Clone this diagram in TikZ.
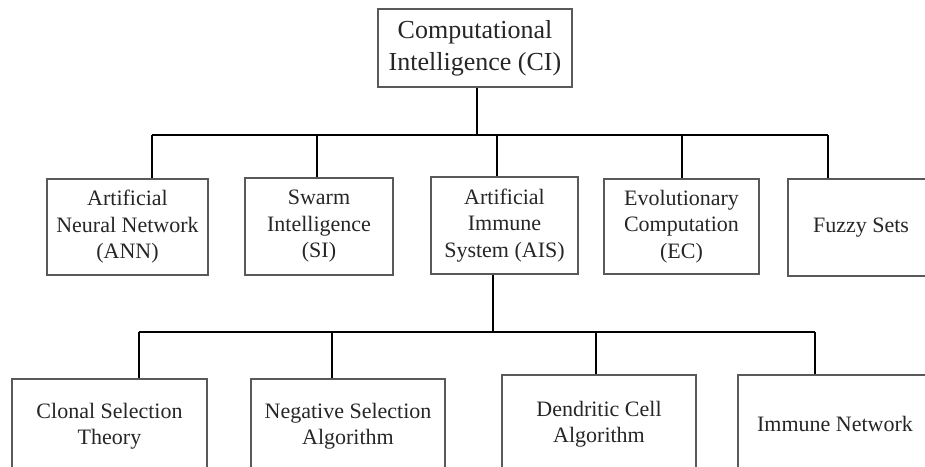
\documentclass[tikz,border=0pt]{standalone}
\usepackage{fontspec}
\setmainfont{Liberation Serif}
\begin{document}
\begin{tikzpicture}[x=1pt,y=-1pt,
  box/.style={draw=black!65,line width=1.3pt,fill=white,inner sep=0pt,align=center,
    text=black!85,font=\fontsize{22}{26.5}\selectfont},
  link/.style={draw=black,line width=2.4pt}]
\clip (0,0) rectangle (925,466);
\fill[white] (0,0) rectangle (925,466);
% top
\node[box,minimum width=194pt,minimum height=78pt,font=\fontsize{26}{32}\selectfont] (ci) at (475,48) {Computational\\Intelligence (CI)};
% second level
\node[box,minimum width=161pt,minimum height=96pt] (ann) at (127.5,227) {Artificial\\Neural Network\\(ANN)};
\node[box,minimum width=148pt,minimum height=97pt] (si) at (319,226.5) {Swarm\\Intelligence\\(SI)};
\node[box,minimum width=147pt,minimum height=97pt] (ais) at (504.5,225.5) {Artificial\\Immune\\System (AIS)};
\node[box,minimum width=155pt,minimum height=95pt] (ec) at (681.5,226.5) {Evolutionary\\Computation\\(EC)};
\node[box,minimum width=146pt,minimum height=97pt] (fs) at (861,227.5) {Fuzzy Sets};
% third level
\node[box,minimum width=195pt,minimum height=94pt] (cst) at (109.5,426) {Clonal Selection\\Theory};
\node[box,minimum width=194pt,minimum height=94pt] (nsa) at (348,426) {Negative Selection\\Algorithm};
\node[box,minimum width=194pt,minimum height=98pt] (dca) at (599,424) {Dendritic Cell\\Algorithm};
\node[box,minimum width=194pt,minimum height=98pt] (imn) at (835,424) {Immune Network};
% bus junctions
\coordinate (top) at (477,135);
\coordinate (b1) at (152,135);
\coordinate (b2) at (317,135);
\coordinate (b3) at (497,135);
\coordinate (b4) at (682,135);
\coordinate (b5) at (828,135);
\coordinate (mid) at (493,332);
\coordinate (c1) at (139,332);
\coordinate (c2) at (332,332);
\coordinate (c3) at (596,332);
\coordinate (c4) at (815,332);
% connectors
\draw[link] (top |- ci.south) -- (top);
\draw[link] (b1) -- (b5);
\draw[link] (b1) -- (b1 |- ann.north);
\draw[link] (b2) -- (b2 |- si.north);
\draw[link] (b3) -- (b3 |- ais.north);
\draw[link] (b4) -- (b4 |- ec.north);
\draw[link] (b5) -- (b5 |- fs.north);
\draw[link] (mid |- ais.south) -- (mid);
\draw[link] (c1) -- (c4);
\draw[link] (c1) -- (c1 |- cst.north);
\draw[link] (c2) -- (c2 |- nsa.north);
\draw[link] (c3) -- (c3 |- dca.north);
\draw[link] (c4) -- (c4 |- imn.north);
\end{tikzpicture}
\end{document}
